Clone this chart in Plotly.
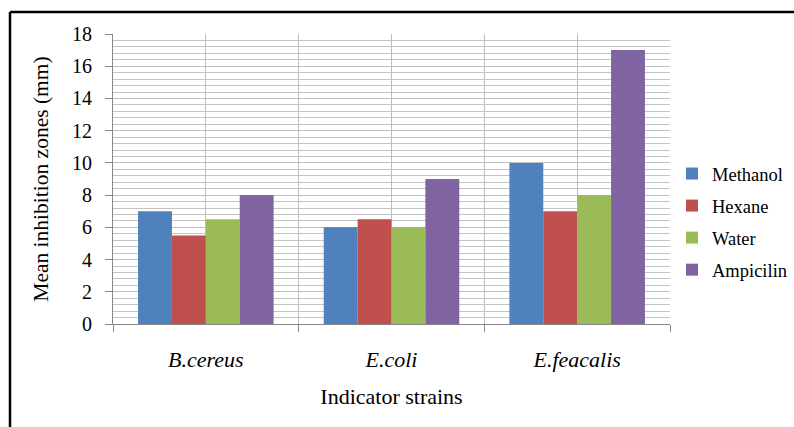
import plotly.graph_objects as go

# Mean inhibition zones (mm) per indicator strain and extract
strains = ["B.cereus", "E.coli", "E.feacalis"]
methanol = [7, 6, 10]
hexane = [5.5, 6.5, 7]
water = [6.5, 6, 8]
ampicilin = [8, 9, 17]

series = [
    ("Methanol", methanol, "#4F81BD"),
    ("Hexane", hexane, "#C0504D"),
    ("Water", water, "#9BBB59"),
    ("Ampicilin", ampicilin, "#8064A2"),
]

FONT = "Times New Roman, Liberation Serif, DejaVu Serif, serif"
positions = list(range(len(strains)))

fig = go.Figure()
for name, vals, color in series:
    fig.add_trace(go.Bar(
        x=positions, y=vals, name=name, legendgroup=name,
        marker=dict(color=color, line=dict(width=0)),
    ))

W, H = 794, 427
L, R, T, B = 113, 124, 34, 103
pw, ph = W - L - R, H - T - B

def px_x(x):
    return (x - L) / pw

def px_y(y):
    return (H - B - y) / ph

fig.update_layout(
    width=W, height=H,
    margin=dict(l=L, r=R, t=T, b=B, pad=0, autoexpand=False),
    paper_bgcolor="white", plot_bgcolor="white",
    barmode="group", bargap=0.27, bargroupgap=0,
    font=dict(family=FONT, color="black"),
    showlegend=True,
    legend=dict(
        x=px_x(672), xanchor="left", y=px_y(222), yanchor="middle",
        font=dict(family=FONT, size=18.5, color="black"),
        tracegroupgap=5, itemwidth=30, bgcolor="rgba(0,0,0,0)",
    ),
    xaxis=dict(
        range=[-0.5, len(strains) - 0.5],
        tickvals=positions, ticktext=[f"<i>{s}</i>" for s in strains],
        ticks="", showgrid=True, gridcolor="#bfbfbf", gridwidth=1,
        tickfont=dict(family=FONT, size=22, color="black"),
        ticklabelstandoff=16,
        showline=True, linecolor="#868686", linewidth=1,
        zeroline=False,
        minor=dict(
            tickvals=[p - 0.5 for p in positions] + [positions[-1] + 0.5],
            ticks="outside", ticklen=7, tickcolor="#868686",
            showgrid=True, gridcolor="#bfbfbf", gridwidth=1,
        ),
        title=dict(text="Indicator strains", standoff=17,
                   font=dict(family=FONT, size=22, color="black")),
    ),
    yaxis=dict(
        range=[0, 18], dtick=2, tick0=0,
        ticks="outside", ticklen=7, tickcolor="#868686",
        ticklabelstandoff=9,
        showgrid=True, gridcolor="#bfbfbf", gridwidth=1,
        tickfont=dict(family=FONT, size=20, color="black"),
        showline=True, linecolor="#868686", linewidth=1,
        zeroline=False,
        minor=dict(dtick=0.4, showgrid=True, gridcolor="#c4c4c4", gridwidth=1, ticks=""),
        title=dict(text="Mean inhibition zones (mm)", standoff=17,
                   font=dict(family=FONT, size=21.5, color="black")),
    ),
)

# Outer chart frame (left and top edges)
fig.add_shape(
    type="line", xref="paper", yref="paper",
    x0=px_x(10), y0=px_y(440), x1=px_x(10), y1=px_y(12),
    line=dict(color="black", width=2.5), layer="above",
)
fig.add_shape(
    type="line", xref="paper", yref="paper",
    x0=px_x(10), y0=px_y(12), x1=px_x(810), y1=px_y(12),
    line=dict(color="black", width=2.5), layer="above",
)

fig.write_html("out.html")
